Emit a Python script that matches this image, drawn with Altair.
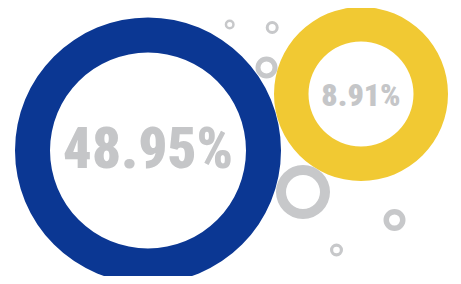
import math
import altair as alt
import pandas as pd

# values shown in the two donuts
labels = ["48.95%", "8.91%"]
values = [48.95, 8.91]
series = ["blue", "yellow"]

BLUE = "#0b3793"
YELLOW = "#f1c933"
GRAY = "#c7c8ca"
TXT = "#c5c6c8"
FONT = "Roboto Condensed, Roboto, sans-serif"

W, H = 445, 268
xs = alt.Scale(domain=[0, W], range=[0, W])
ys = alt.Scale(domain=[0, H], range=[0, H])

df = pd.DataFrame({"label": labels, "value": values, "series": series})

def ring(cx, cy, ro, ri, color, data=None):
    d = data if data is not None else pd.DataFrame({"k": [0]})
    return alt.Chart(d).mark_arc(
        radius=ro, radius2=ri, theta=0, theta2=2 * math.pi, color=color
    ).encode(
        x=alt.datum(cx, scale=xs, axis=None),
        y=alt.datum(cy, scale=ys, axis=None),
    )

def label(cx, cy, text_idx, size):
    d = df.iloc[[text_idx]]
    return alt.Chart(d).mark_text(
        font=FONT, fontWeight=900, fontSize=size, color=TXT,
        baseline="middle", align="center"
    ).encode(
        x=alt.datum(cx, scale=xs, axis=None),
        y=alt.datum(cy, scale=ys, axis=None),
        text="label:N",
    )

deco = [
    ring(221.7, 16.5, 5, 2.5, GRAY),
    ring(264.2, 19.5, 6.5, 3.5, GRAY),
    ring(258.5, 59.5, 11, 6, GRAY),
    ring(295, 184, 27, 17, GRAY),
    ring(386.5, 212, 11, 5.5, GRAY),
    ring(328.5, 242, 6.5, 3.3, GRAY),
]

main = [
    ring(140, 142.5, 133, 98, BLUE, df.iloc[[0]]),
    ring(353, 86, 87, 52.5, YELLOW, df.iloc[[1]]),
    label(140, 143, 0, 57),
    label(353, 87.5, 1, 32),
]

chart = alt.layer(*deco, *main).properties(
    width=W, height=H, padding=0, autosize=alt.AutoSizeParams(type="none")
).configure_view(stroke=None)

chart.save("out.html", embed_options={"renderer": "svg", "actions": False})
